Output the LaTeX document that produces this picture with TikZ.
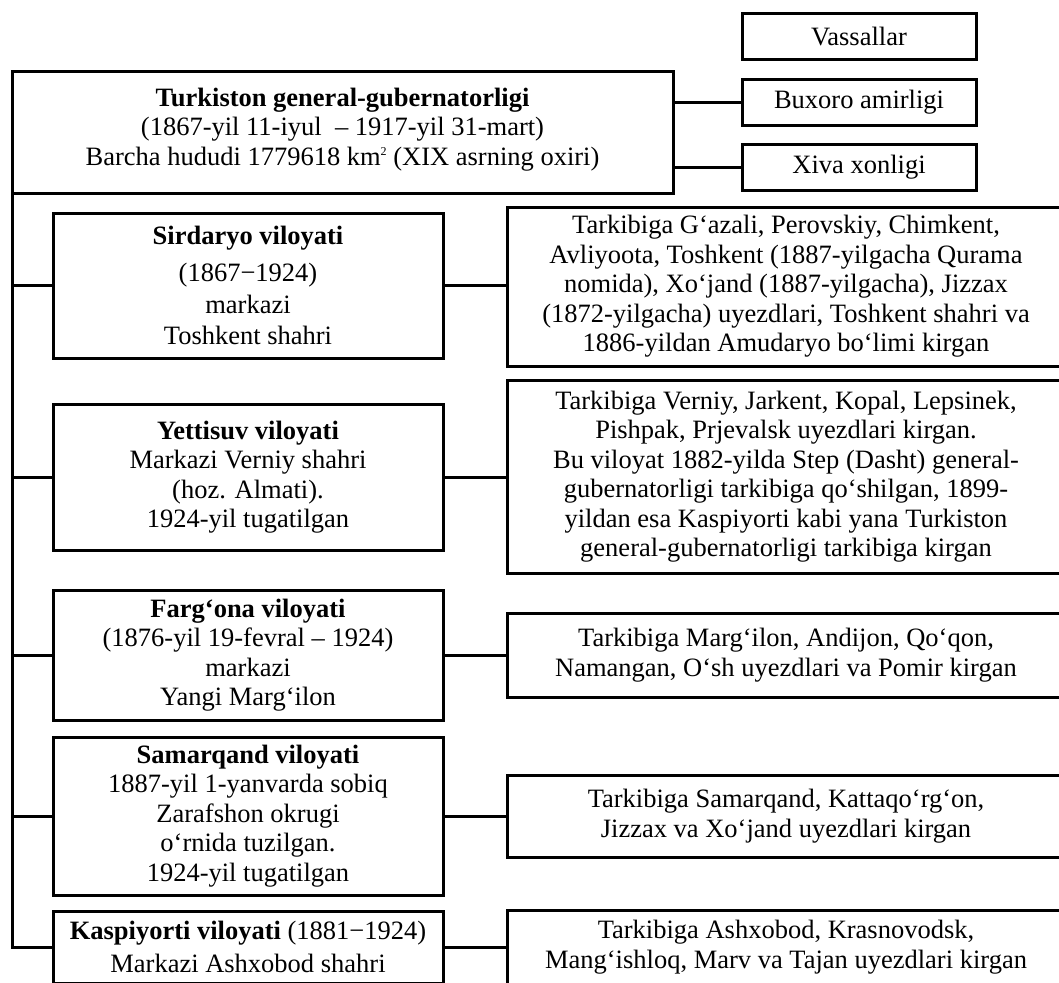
\documentclass[tikz,border=0pt]{standalone}
\usepackage{fontspec}
\setmainfont{Liberation Serif}
\begin{document}
\begin{tikzpicture}[x=1pt,y=-1pt,
  box/.style={draw, line width=3pt, inner sep=0pt, outer sep=0pt, align=center,
              font=\fontsize{26.5}{29.5}\selectfont},
  link/.style={line width=3pt},
]
\useasboundingbox (0,0) rectangle (1059,982);
\clip (0,0) rectangle (1059,982);
\fill[white] (0,0) rectangle (1059,982);

% top level
\node[box, minimum width=661pt, minimum height=122pt] (top) at (342.5,132)
  {\textbf{Turkiston general-gubernatorligi}\\(1867-yil 11-iyul\ \ – 1917-yil 31-mart)\\Barcha hududi 1779618 km\raisebox{10pt}{\fontsize{12}{12}\selectfont 2} (XIX asrning oxiri)\\[-19pt]\mbox{}};

% vassals
\node[box, minimum width=234pt, minimum height=46pt] (vas) at (859,37) {Vassallar};
\node[box, minimum width=234pt, minimum height=46pt] (bux) at (859,102) {Buxoro amirligi};
\node[box, minimum width=234pt, minimum height=46pt] (xiva) at (859,167) {Xiva xonligi};

% provinces
\node[box, minimum width=390pt, minimum height=145pt] (sir) at (248,285.5)
  {\textbf{Sirdaryo viloyati}\\[7pt](1867−1924)\\[3pt]markazi\\[1pt]Toshkent shahri};
\node[box, minimum width=390pt, minimum height=146pt] (yet) at (248,477)
  {\textbf{Yettisuv viloyati}\\Markazi Verniy shahri\\(hoz. Almati).\\1924-yil tugatilgan};
\node[box, minimum width=390pt, minimum height=130pt] (far) at (248,655)
  {\textbf{Farg‘ona viloyati}\\(1876-yil 19-fevral – 1924)\\markazi\\Yangi Marg‘ilon};
\node[box, minimum width=390pt, minimum height=158pt] (sam) at (248,816)
  {\textbf{Samarqand viloyati}\\1887-yil 1-yanvarda sobiq\\Zarafshon okrugi\\o‘rnida tuzilgan.\\1924-yil tugatilgan};
\node[box, minimum width=390pt, minimum height=72pt] (kas) at (248,947)
  {\textbf{Kaspiyorti viloyati} (1881−1924)\\[4pt]Markazi Ashxobod shahri};

% details
\node[box, minimum width=558pt, minimum height=159pt] (sirR) at (786,286.5)
  {Tarkibiga G‘azali, Perovskiy, Chimkent,\\Avliyoota, Toshkent (1887-yilgacha Qurama\\nomida), Xo‘jand (1887-yilgacha), Jizzax\\(1872-yilgacha) uyezdlari, Toshkent shahri va\\1886-yildan Amudaryo bo‘limi kirgan};
\node[box, minimum width=558pt, minimum height=193pt] (yetR) at (786,476.5)
  {Tarkibiga Verniy, Jarkent, Kopal, Lepsinek,\\Pishpak, Prjevalsk uyezdlari kirgan.\\Bu viloyat 1882-yilda Step (Dasht) general-\\gubernatorligi tarkibiga qo‘shilgan, 1899-\\yildan esa Kaspiyorti kabi yana Turkiston\\general-gubernatorligi tarkibiga kirgan};
\node[box, minimum width=558pt, minimum height=84pt] (farR) at (786,655)
  {Tarkibiga Marg‘ilon, Andijon, Qo‘qon,\\Namangan, O‘sh uyezdlari va Pomir kirgan};
\node[box, minimum width=558pt, minimum height=82pt] (samR) at (786,816)
  {Tarkibiga Samarqand, Kattaqo‘rg‘on,\\Jizzax va Xo‘jand uyezdlari kirgan};
\node[box, minimum width=558pt, minimum height=74pt] (kasR) at (786,947)
  {Tarkibiga Ashxobod, Krasnovodsk,\\Mang‘ishloq, Marv va Tajan uyezdlari kirgan};

% connectors
\coordinate (spineend) at (12,947);
\draw[link] (top.south west) -- (spineend) -- (kas.west);
\foreach \n in {sir,yet,far,sam}{
  \draw[link] (\n.west -| spineend) -- (\n.west);
}
\foreach \n in {sir,yet,far,sam,kas}{
  \draw[link] (\n.east) -- (\n.east -| \n R.west);
}
\draw[link] (bux.west -| top.east) -- (bux.west);
\draw[link] (xiva.west -| top.east) -- (xiva.west);
\end{tikzpicture}
\end{document}
